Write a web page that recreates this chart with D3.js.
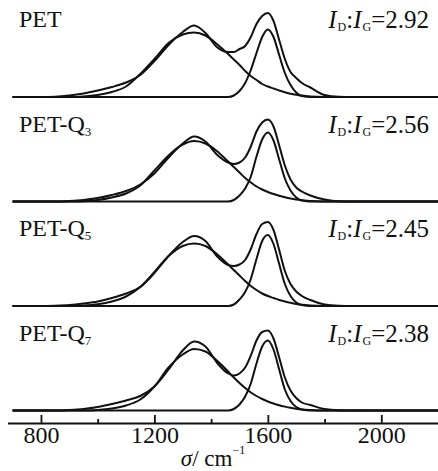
<!DOCTYPE html>
<html>
<head>
<meta charset="utf-8">
<script src="https://cdn.jsdelivr.net/npm/d3@7"></script>
<style>
  body { margin: 0; background: #fff; }
</style>
</head>
<body>
<div id="chart-area"></div>
<script>
// wavenumber grid (cm-1) the curves were read at
var wavenumbers = [700, 800, 850, 900, 950, 1000, 1050, 1100, 1150, 1200, 1250, 1300, 1340, 1380, 1420, 1460, 1480, 1500, 1520, 1540, 1560, 1580, 1600, 1620, 1640, 1660, 1680, 1700, 1720, 1750, 1800, 1850, 1900, 2000, 2200]

var sampleNames = ['PET', 'PET-Q', 'PET-Q', 'PET-Q']
var sampleSubs = ['', '3', '5', '7']
var ratios = ['2.92', '2.56', '2.45', '2.38']

var majorTicks = [800, 1200, 1600, 2000]
var minorTicks = [1000, 1400, 1800]

// fitted spectrum (sum)
var petTotal = [0, 0, 0.3, 1.5, 3.5, 6.5, 10, 14.5, 22, 36, 52, 65, 71.5, 64, 50, 45, 45, 48, 51, 60, 73, 81, 84, 76, 57, 38, 25, 19, 14, 9.5, 2, 0.2, 0, 0, 0]
var q3Total = [0, 0, 0, 0.5, 1.5, 3.5, 6.5, 10.5, 17, 28, 44, 58, 65, 60, 47, 39, 37.5, 39, 44, 55, 70, 79, 82, 75, 56, 36, 22, 14, 10, 6, 2, 0.2, 0, 0, 0]
var q5Total = [0, 0, 0.3, 1, 2.5, 4.5, 8, 12.5, 19, 33, 50, 64, 70, 65, 50, 41, 40, 41.5, 46, 57, 72, 82, 84, 76, 56, 35, 22, 14.5, 10, 6, 1.5, 0.2, 0, 0, 0]
var q7Total = [0, 0, 0, 0.5, 1.5, 3.5, 6.5, 10, 14.5, 24, 41, 60, 69, 64, 48, 37, 35, 37, 43, 55, 70, 78.5, 80, 72, 53, 33, 20, 12.5, 8, 5.5, 1.5, 0.2, 0, 0, 0]

// D band component
var petD = [0, 0, 0, 0, 0.5, 2, 5, 10.5, 23, 38, 54, 62.5, 64.5, 61.5, 53, 43, 37.5, 32, 26, 21, 17, 13, 10.5, 8.5, 6.5, 4.8, 3.3, 2.2, 1.4, 0.6, 0.1, 0, 0, 0, 0]
var q3D = [0, 0, 0, 0, 0.3, 1.5, 4, 8, 16, 31, 46, 57, 60.5, 58, 50.5, 40, 34.5, 29, 23.5, 19, 15, 12, 9.5, 7.5, 5.8, 4.3, 3, 2, 1.3, 0.5, 0.1, 0, 0, 0, 0]
var q5D = [0, 0, 0, 0, 0.5, 1.8, 4.5, 9.5, 19, 34, 50, 60, 62.5, 60, 52, 41.5, 36, 30.5, 25, 20, 16, 12.5, 10, 8, 6, 4.5, 3.2, 2.1, 1.3, 0.6, 0.1, 0, 0, 0, 0]
var q7D = [0, 0, 0, 0, 0, 0.5, 2, 5, 11, 24, 43, 56, 61.5, 59, 50, 39, 33, 27.5, 22.5, 18, 14.5, 11.5, 9, 7, 5.3, 3.9, 2.7, 1.8, 1.1, 0.5, 0, 0, 0, 0, 0]

// G band component
var petG = [0, 0, 0, 0, 0, 0, 0, 0, 0, 0, 0, 0, 0, 0, 0, 0, 1.5, 6, 14, 27, 44, 60, 67.5, 60, 42, 24, 12, 4.5, 1, 0, 0, 0, 0, 0, 0]
var q3G = [0, 0, 0, 0, 0, 0, 0, 0, 0, 0, 0, 0, 0, 0, 0, 0, 1.5, 6, 13, 25, 45, 62, 69, 61, 42, 23, 11, 4, 1, 0, 0, 0, 0, 0, 0]
var q5G = [0, 0, 0, 0, 0, 0, 0, 0, 0, 0, 0, 0, 0, 0, 0, 0, 1.5, 6.5, 14, 27, 47, 65, 71, 62, 42, 22, 10, 3.5, 1, 0, 0, 0, 0, 0, 0]
var q7G = [0, 0, 0, 0, 0, 0, 0, 0, 0, 0, 0, 0, 0, 0, 0, 0, 1.5, 6, 14, 27, 47, 64, 70, 61, 41, 21, 9.5, 3.5, 1, 0, 0, 0, 0, 0, 0]

var totals = [petTotal, q3Total, q5Total, q7Total]
var dBands = [petD, q3D, q5D, q7D]
var gBands = [petG, q3G, q5G, q7G]

var serif = "'Liberation Serif', 'Times New Roman', Times, serif"
var ink = '#111'

var width = 438
var height = 471
var axisY = 423
var panelTop = 97
var panelStep = 104.5

var svg = d3.select('#chart-area').append('svg')
    .attr('width', width)
    .attr('height', height)
    .style('font-family', serif)

var x = d3.scaleLinear().domain([682, 2200]).range([7.5, 438])
var y = d3.scaleLinear().domain([0, 100]).range([0, -100])

var line = d3.line()
    .x((d, i) => x(wavenumbers[i]))
    .y(d => y(d))
    .curve(d3.curveMonotoneX)

sampleNames.forEach((name, k) => {
    var g = svg.append('g').attr('transform', `translate(0, ${panelTop + k * panelStep})`)

    var curves = [dBands[k], gBands[k], totals[k]]
    g.selectAll('path.curve').data(curves).enter()
        .append('path')
            .attr('class', 'curve')
            .attr('d', line)
            .attr('fill', 'none')
            .attr('stroke', ink)
            .attr('stroke-width', 2)
            .attr('stroke-linejoin', 'round')

    var label = g.append('text')
        .attr('x', 19)
        .attr('y', -70)
        .style('font-family', serif)
        .style('font-size', '24px')
        .attr('fill', ink)
    label.append('tspan').text(name)
    if (sampleSubs[k]) {
        label.append('tspan').style('font-size', '13px').attr('dy', 4).text(sampleSubs[k])
    }

    var ratio = g.append('text')
        .attr('x', 429)
        .attr('y', -69)
        .attr('text-anchor', 'end')
        .style('font-family', serif)
        .style('font-size', '25px')
        .attr('fill', ink)
    ratio.append('tspan').style('font-style', 'italic').text('I')
    ratio.append('tspan').style('font-size', '12px').attr('dy', 3).attr('dx', 1).text('D')
    ratio.append('tspan').attr('dy', -3).text(':')
    ratio.append('tspan').style('font-style', 'italic').text('I')
    ratio.append('tspan').style('font-size', '12px').attr('dy', 3).attr('dx', 1).text('G')
    ratio.append('tspan').attr('dy', -3).text('=' + ratios[k])
})

var xAxisCall = d3.axisBottom(x)
    .tickValues(majorTicks)
    .tickSizeInner(-8)
    .tickSizeOuter(0)
    .tickPadding(3)
    .tickFormat(d3.format('d'))

var xAxisGroup = svg.append('g').attr('class', 'x-axis')
    .attr('transform', `translate(0, ${axisY})`)
    .call(xAxisCall)

var minorCall = d3.axisBottom(x)
    .tickValues(minorTicks)
    .tickSizeInner(-4)
    .tickSizeOuter(0)
    .tickFormat('')

var minorGroup = svg.append('g').attr('class', 'x-axis-minor')
    .attr('transform', `translate(0, ${axisY})`)
    .call(minorCall)

minorGroup.select('.domain').remove()

svg.selectAll('.x-axis path, .x-axis line, .x-axis-minor line')
    .attr('stroke', ink)
    .attr('stroke-width', 1.8)

xAxisGroup.attr('font-family', null).attr('font-size', null)
xAxisGroup.selectAll('text')
    .style('font-family', serif)
    .style('font-size', '24px')
    .attr('fill', ink)

var xLabel = svg.append('text')
    .attr('x', 213)
    .attr('y', 466)
    .attr('text-anchor', 'middle')
    .style('font-family', serif)
    .style('font-size', '23px')
    .attr('fill', ink)
xLabel.append('tspan').style('font-style', 'italic').text('σ')
xLabel.append('tspan').text('/ cm')
xLabel.append('tspan').style('font-size', '12px').attr('dy', -12).text('−1')
</script>
</body>
</html>
